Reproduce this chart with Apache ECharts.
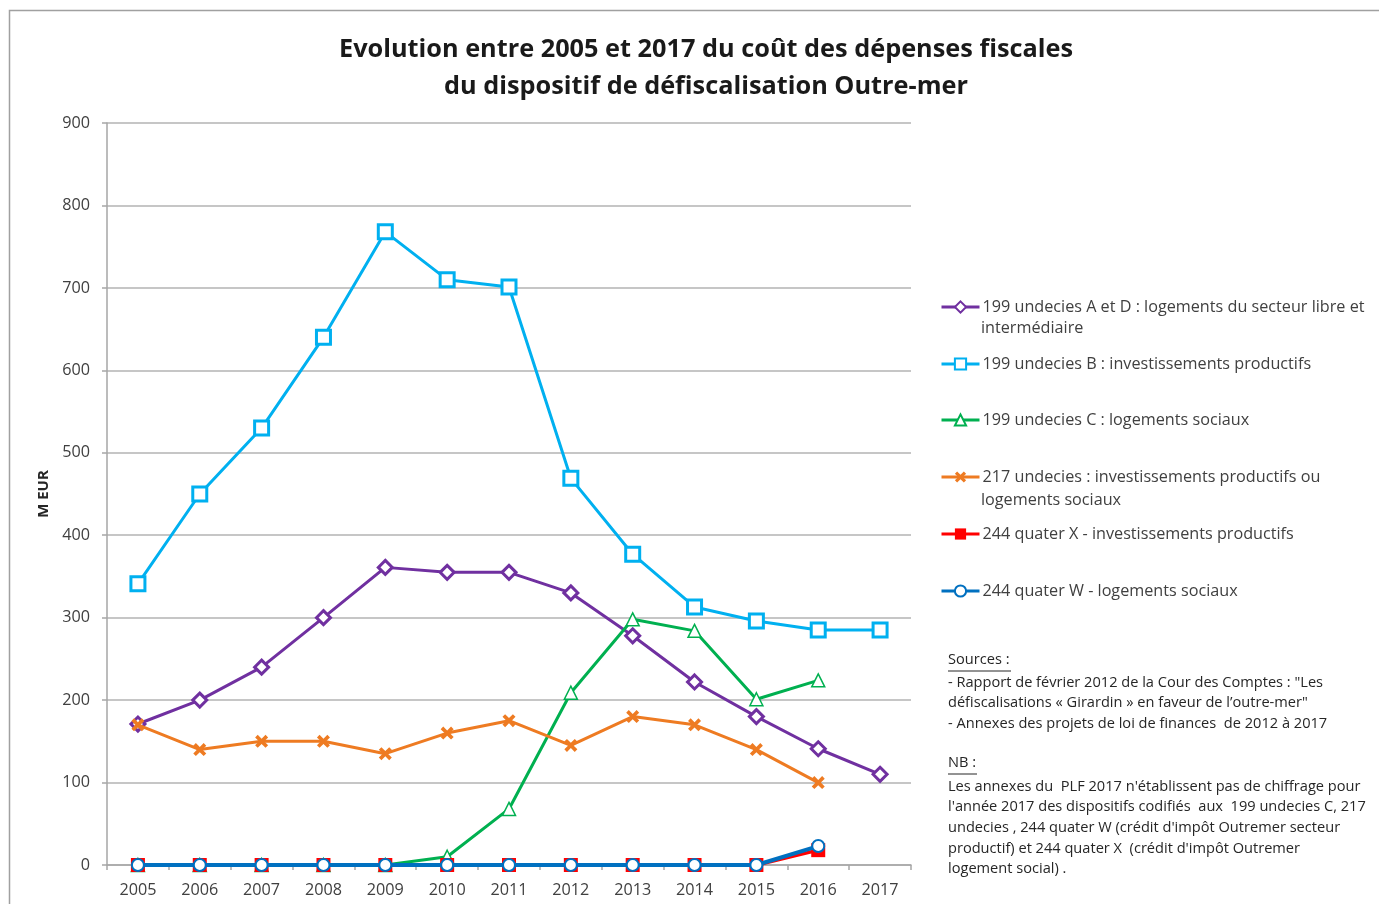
<!DOCTYPE html>
<html>
<head>
<meta charset="utf-8">
<script src="https://cdn.jsdelivr.net/npm/echarts@6/dist/echarts.min.js"></script>
<style>
  html, body { margin: 0; padding: 0; background: #fff; }
  #chart { width: 1379px; height: 904px; }
</style>
</head>
<body>
<div id="chart"></div>
<script>
const years = ['2005', '2006', '2007', '2008', '2009', '2010', '2011', '2012', '2013', '2014', '2015', '2016', '2017']

const seriesNames = [
  '199 undecies A et D : logements du secteur libre et intermédiaire',
  '199 undecies B : investissements productifs',
  '199 undecies C : logements sociaux',
  '217 undecies : investissements productifs ou logements sociaux',
  '244 quater X - investissements productifs',
  '244 quater W - logements sociaux',
]

// values in M EUR
const undeciesAD = [171, 200, 240, 300, 361, 355, 355, 330, 278, 222, 180, 141, 110]
const undeciesB = [341, 450, 530, 640, 768, 710, 701, 469, 377, 313, 296, 285, 285]
const undeciesC = [0, 0, 0, 0, 0, 10, 68, 209, 298, 284, 201, 224, null]
const undecies217 = [170, 140, 150, 150, 135, 160, 175, 145, 180, 170, 140, 100, null]
const quaterX = [0, 0, 0, 0, 0, 0, 0, 0, 0, 0, 0, 18, null]
const quaterW = [0, 0, 0, 0, 0, 0, 0, 0, 0, 0, 0, 23, null]

const colors = ['#7030a0', '#00b0f0', '#00b050', '#ee7b22', '#ff0000', '#0070c0']

const FONT = '"Open Sans", "Noto Sans", sans-serif'
const crossPath = 'path://M0,2L2,0L5,3L8,0L10,2L7,5L10,8L8,10L5,7L2,10L0,8L3,5Z'

const chart = echarts.init(document.getElementById('chart'))

const mkLine = (i, data, symbol, size, fill, width, border) => ({
  name: seriesNames[i],
  type: 'line',
  data,
  symbol,
  symbolSize: size,
  showAllSymbol: true,
  connectNulls: false,
  animation: false,
  lineStyle: { color: colors[i], width },
  itemStyle: { color: fill, borderColor: colors[i], borderWidth: border },
  emphasis: { disabled: true },
  z: 2 + i,
})

// one legend per entry so each can sit where the reference puts it
const legendCenters = [307, 364, 420, 477, 534, 591]
const legends = seriesNames.map((n, i) => ({
  data: [n],
  left: 940,
  top: legendCenters[i] - 10,
  padding: 0,
  orient: 'vertical',
  itemWidth: 38,
  itemHeight: 14,
  selectedMode: false,
  formatter: (name) => {
    if (i === 0) return '199 undecies A et D : logements du secteur libre et'
    if (i === 3) return '217 undecies : investissements productifs ou'
    return name
  },
  lineStyle: { width: 3 },
  textStyle: { fontFamily: FONT, fontSize: 16.2, color: '#404040', lineHeight: 20, padding: [0, 0, 0, -2] },
}))

const srcLines = [
  '- Rapport de février 2012 de la Cour des Comptes : "Les',
  'défiscalisations « Girardin » en faveur de l’outre-mer"',
  '- Annexes des projets de loi de finances  de 2012 à 2017',
]
const nbLines = [
  'Les annexes du  PLF 2017 n\'établissent pas de chiffrage pour',
  'l\'année 2017 des dispositifs codifiés  aux  199 undecies C, 217',
  'undecies , 244 quater W (crédit d\'impôt Outremer secteur',
  'productif) et 244 quater X  (crédit d\'impôt Outremer',
  'logement social) .',
]

const noteStyle = { fontFamily: FONT, fontSize: 14.6, fill: '#262626' }

chart.setOption({
  backgroundColor: '#fff',
  animation: false,
  title: {
    text: 'Evolution entre 2005 et 2017 du coût des dépenses fiscales\ndu dispositif de défiscalisation Outre-mer',
    left: 701,
    textAlign: 'center',
    top: 26,
    textStyle: { fontFamily: FONT, fontSize: 25.3, fontWeight: 'bold', color: '#1a1a1a', lineHeight: 37 },
  },
  legend: legends,
  grid: { left: 107, right: 468, top: 123, bottom: 39 },
  xAxis: {
    type: 'category',
    data: years,
    boundaryGap: true,
    axisLine: { lineStyle: { color: '#a6a6a6', width: 1.5 } },
    axisTick: { show: true, interval: 0, length: 5, lineStyle: { color: '#a6a6a6', width: 1.5 } },
    axisLabel: { fontFamily: FONT, fontSize: 16.2, color: '#404040', margin: 17, interval: 0 },
  },
  yAxis: {
    type: 'value',
    min: 0,
    max: 900,
    interval: 100,
    name: 'M EUR',
    nameLocation: 'middle',
    nameGap: 56,
    nameTextStyle: { fontFamily: FONT, fontSize: 15, fontWeight: 'bold', color: '#262626' },
    axisLine: { show: true, lineStyle: { color: '#a6a6a6', width: 1.5 } },
    axisTick: { show: true, length: 5, lineStyle: { color: '#a6a6a6', width: 1.5 } },
    axisLabel: { fontFamily: FONT, fontSize: 16.2, color: '#404040', margin: 17 },
    splitLine: { lineStyle: { color: '#b3b3b3', width: 1.5 } },
  },
  series: [
    mkLine(0, undeciesAD, 'diamond', 14, '#fff', 3, 3),
    mkLine(1, undeciesB, 'rect', 14, '#fff', 3, 3),
    mkLine(2, undeciesC, 'triangle', 13, '#fff', 3, 1.5),
    { ...mkLine(3, undecies217, crossPath, 13, colors[3], 3, 0), itemStyle: { color: colors[3], borderWidth: 0 } },
    { ...mkLine(4, quaterX, 'rect', 14, colors[4], 3.5, 0), itemStyle: { color: colors[4], borderWidth: 0 } },
    mkLine(5, quaterW, 'circle', 12, '#fff', 4, 2),
  ],
  graphic: [
    // outer frame of the original sheet
    { type: 'rect', shape: { x: 9.5, y: 10.5, width: 1500, height: 1000 }, style: { fill: 'none', stroke: '#a0a0a0', lineWidth: 1.5 }, silent: true },
    { type: 'text', left: 981, top: 320, style: { text: 'intermédiaire', fontFamily: FONT, fontSize: 16.2, fill: '#404040' } },
    { type: 'text', left: 981, top: 492, style: { text: 'logements sociaux', fontFamily: FONT, fontSize: 16.2, fill: '#404040' } },
    { type: 'text', left: 948, top: 652, style: { text: 'Sources :', ...noteStyle } },
    { type: 'line', shape: { x1: 948, y1: 671, x2: 1011, y2: 671 }, style: { stroke: '#262626', lineWidth: 1 } },
    { type: 'text', left: 948, top: 672, style: { text: srcLines.join('\n'), ...noteStyle, lineHeight: 20.8 } },
    { type: 'text', left: 948, top: 755, style: { text: 'NB :', ...noteStyle } },
    { type: 'line', shape: { x1: 948, y1: 774, x2: 977, y2: 774 }, style: { stroke: '#262626', lineWidth: 1 } },
    { type: 'text', left: 948, top: 776, style: { text: nbLines.join('\n'), ...noteStyle, lineHeight: 20.7 } },
  ],
})
</script>
</body>
</html>
